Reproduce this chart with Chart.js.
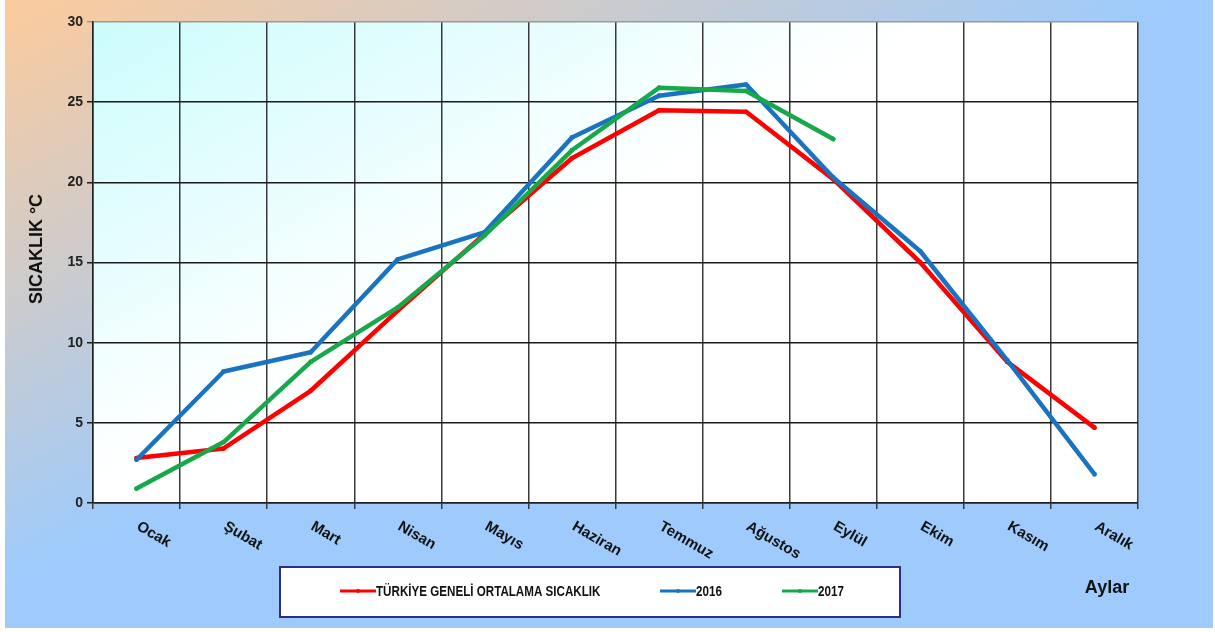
<!DOCTYPE html>
<html>
<head>
<meta charset="utf-8">
<script src="https://cdn.jsdelivr.net/npm/chart.js@4"></script>
<style>
html,body{margin:0;padding:0;background:#fff;}
#wrap{width:1215px;height:632px;position:relative;}
</style>
</head>
<body>
<div id="wrap"><canvas id="c" width="1215" height="632"></canvas></div>
<script>
const months = ['Ocak','Şubat','Mart','Nisan','Mayıs','Haziran','Temmuz','Ağustos','Eylül','Ekim','Kasım','Aralık'];
const seriesNames = ['TÜRKİYE GENELİ ORTALAMA SICAKLIK','2016','2017'];
const avgTemp = [2.8, 3.4, 7.0, 12.0, 16.8, 21.5, 24.5, 24.4, 20.2, 15.0, 8.8, 4.7];
const temp2016 = [2.7, 8.2, 9.4, 15.2, 16.9, 22.8, 25.4, 26.1, 20.3, 15.7, 8.9, 1.8];
const temp2017 = [0.9, 3.8, 8.8, 12.2, 16.7, 22.0, 25.9, 25.7, 22.7, null, null, null];
const yTitle = 'SICAKLIK °C';
const xTitle = 'Aylar';

const colors = ['#ff0000','#1a73c0','#16a84a'];

const bgPlugin = {
  id:'bg',
  beforeDraw(chart){
    const {ctx, chartArea:a} = chart;
    ctx.save();
    ctx.fillStyle='#ffffff';
    ctx.fillRect(0,0,chart.width,chart.height);
    const g = ctx.createLinearGradient(0,0,235,470);
    g.addColorStop(0.05,'#f9cba0');
    g.addColorStop(1,'#9ecbfc');
    ctx.fillStyle=g;
    ctx.fillRect(5,0,1208,628);
    const g2 = ctx.createLinearGradient(a.left,a.top,a.left+200,a.top+360);
    g2.addColorStop(0,'#ccfcfc');
    g2.addColorStop(1,'#ffffff');
    ctx.fillStyle=g2;
    ctx.fillRect(a.left,a.top,a.right-a.left,a.bottom-a.top);
    ctx.restore();
  }
};

const textPlugin = {
  id:'texts',
  afterDraw(chart){
    const {ctx, chartArea:a} = chart;
    const xs = chart.scales.x;
    ctx.save();
    ctx.fillStyle='#111';
    ctx.font='bold 15px "Liberation Sans", Arial, sans-serif';
    ctx.textAlign='left';
    ctx.textBaseline='top';
    months.forEach((m,i)=>{
      const x = xs.getPixelForValue(i);
      ctx.save();
      ctx.translate(x+5, a.bottom+16);
      ctx.rotate(30*Math.PI/180);
      ctx.fillText(m,0,0);
      ctx.restore();
    });
    // y title
    ctx.save();
    ctx.font='bold 18px "Liberation Sans", Arial, sans-serif';
    ctx.textAlign='center';
    ctx.textBaseline='middle';
    ctx.translate(37, 249);
    ctx.rotate(-Math.PI/2);
    ctx.fillText(yTitle,0,0);
    ctx.restore();
    // x title
    ctx.font='bold 18px "Liberation Sans", Arial, sans-serif';
    ctx.textAlign='center';
    ctx.textBaseline='middle';
    ctx.fillText(xTitle,1107,588);
    // legend
    ctx.fillStyle='#ffffff';
    ctx.fillRect(280,567,620,50);
    ctx.strokeStyle='#2e2e80';
    ctx.lineWidth=2;
    ctx.strokeRect(280,567,620,50);
    const ly = 591;
    const items = [[340,36],[660,36],[782,36]];
    ctx.font='bold 14px "Liberation Sans", Arial, sans-serif';
    ctx.textAlign='left';
    ctx.textBaseline='middle';
    chart.data.datasets.forEach((ds,i)=>{
      const [sx,w] = items[i];
      ctx.strokeStyle=ds.borderColor;
      ctx.lineWidth=3;
      ctx.beginPath();ctx.moveTo(sx,ly);ctx.lineTo(sx+w,ly);ctx.stroke();
      ctx.fillStyle=ds.borderColor;
      ctx.beginPath();ctx.arc(sx+w/2,ly,2,0,Math.PI*2);ctx.fill();
      ctx.fillStyle='#111';
      ctx.save();
      ctx.translate(sx+w,ly+1);
      ctx.scale(0.83,1);
      ctx.fillText(ds.label,0,0);
      ctx.restore();
    });
    ctx.restore();
  }
};

new Chart(document.getElementById('c'),{
  type:'line',
  data:{
    labels:months,
    datasets:[
      {label:seriesNames[0],data:avgTemp,borderColor:colors[0],backgroundColor:colors[0],order:3},
      {label:seriesNames[1],data:temp2016,borderColor:colors[1],backgroundColor:colors[1],order:2},
      {label:seriesNames[2],data:temp2017,borderColor:colors[2],backgroundColor:colors[2],order:1}
    ]
  },
  options:{
    responsive:false,
    animation:false,
    devicePixelRatio:1,
    layout:{padding:{left:53,right:77,top:22,bottom:119}},
    elements:{
      line:{borderWidth:4.5,tension:0,borderCapStyle:'round',borderJoinStyle:'round'},
      point:{radius:2.4,borderWidth:0}
    },
    plugins:{legend:{display:false},tooltip:{enabled:false},title:{display:false}},
    scales:{
      x:{
        offset:true,
        grid:{offset:true,color:(c)=> c.index===12 ? '#999999' : '#3a3a3a',lineWidth:1.5,tickLength:6,drawTicks:true},
        border:{color:'#222',width:1.5},
        ticks:{display:false},
        afterFit(s){s.height=10;}
      },
      y:{
        min:0,max:30,
        grid:{color:(c)=> c.tick && c.tick.value===30 ? '#999999' : '#1a1a1a',lineWidth:1.5,tickLength:6},
        border:{color:'#222',width:1.5},
        ticks:{stepSize:5,color:'#222',padding:4,font:{family:'"Liberation Sans", Arial, sans-serif',size:14,weight:'bold'}},
        afterFit(s){s.width=40;}
      }
    }
  },
  plugins:[bgPlugin,textPlugin]
});
</script>
</body>
</html>
